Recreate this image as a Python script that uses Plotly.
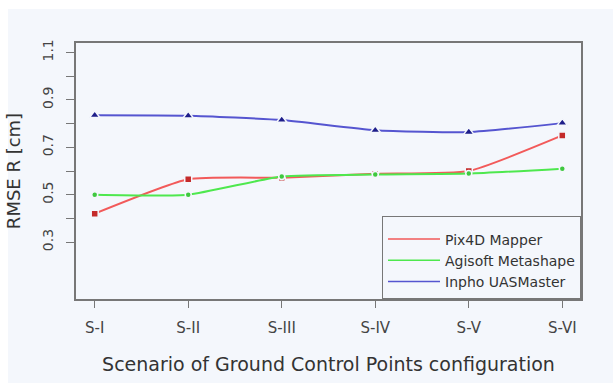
import plotly.graph_objects as go

scenarios = ["S-I", "S-II", "S-III", "S-IV", "S-V", "S-VI"]
pix4d = [0.42, 0.565, 0.572, 0.588, 0.600, 0.750]
agisoft = [0.50, 0.50, 0.577, 0.585, 0.589, 0.610]
inpho = [0.835, 0.833, 0.815, 0.772, 0.764, 0.802]

series_names = ["Pix4D Mapper", "Agisoft Metashape", "Inpho UASMaster"]
line_colors = ["#f25a5a", "#4ee84e", "#5555d0"]
marker_colors = ["#c42a2a", "#3fc83f", "#1e1e8a"]
marker_symbols = ["square", "circle", "triangle-up"]
marker_sizes = [7, 6, 9]

y_tickvals = [0.3, 0.4, 0.5, 0.6, 0.7, 0.8, 0.9, 1.0, 1.1]
y_ticktext = ["0.3", "", "0.5", "", "0.7", "", "0.9", "", "1.1"]

BG = "#f4f7fc"
FONT = "DejaVu Sans, Liberation Sans, Arial, sans-serif"
xpos = list(range(1, len(scenarios) + 1))

fig = go.Figure()
for name, vals, lc, mc, sym, ms in zip(series_names, [pix4d, agisoft, inpho],
                                       line_colors, marker_colors, marker_symbols, marker_sizes):
    fig.add_trace(go.Scatter(
        x=xpos, y=vals, name=name, mode="lines+markers", showlegend=False,
        line=dict(color=lc, width=2, shape="spline", smoothing=0.5),
        marker=dict(color=mc, symbol=sym, size=ms, line=dict(color=BG, width=1.5)),
    ))
# legend entries (line only, as in the reference)
for name, lc in zip(series_names, line_colors):
    fig.add_trace(go.Scatter(
        x=[None], y=[None], name=name, mode="lines",
        line=dict(color=lc, width=1.5), showlegend=True,
    ))

fig.update_layout(
    width=613, height=383,
    margin=dict(l=76, r=32, t=43, b=84),
    paper_bgcolor=BG, plot_bgcolor=BG,
    font=dict(family=FONT, color="#333333"),
    showlegend=True,
    legend=dict(
        x=1, y=0, xanchor="right", yanchor="bottom",
        bgcolor=BG, bordercolor="#777777", borderwidth=1,
        font=dict(size=14, color="#333333", family=FONT),
        itemwidth=52, tracegroupgap=0,
        title=dict(text=" ", font=dict(size=5)),
    ),
    xaxis=dict(
        range=[0.8, 6.2], tickvals=xpos, ticktext=scenarios,
        showgrid=False, zeroline=False,
        ticks="outside", ticklen=7, tickcolor="#777777",
        showline=True, linecolor="#777777", linewidth=1.5, mirror=True,
        tickfont=dict(size=15, color="#444444"), ticklabelstandoff=7,
        title=dict(text="Scenario of Ground Control Points configuration",
                   font=dict(size=19, color="#333333"), standoff=22),
    ),
    yaxis=dict(
        range=[0.06, 1.14], tickvals=y_tickvals, ticktext=y_ticktext,
        showgrid=False, zeroline=False,
        ticks="outside", ticklen=8, tickcolor="#777777",
        showline=True, linecolor="#777777", linewidth=1.5, mirror=True,
        tickangle=-90,
        tickfont=dict(size=14, color="#444444"), ticklabelstandoff=8,
        title=dict(text="RMSE R [cm]", font=dict(size=18, color="#333333"), standoff=14),
    ),
)

# white strip at top and left edge of the scanned page
fig.add_shape(type="rect", xref="paper", yref="paper",
              x0=-0.2, x1=1.1, y0=1 + 34 / 256, y1=1.3,
              fillcolor="white", line=dict(width=0), layer="above")
fig.add_shape(type="rect", xref="paper", yref="paper",
              x0=-76 / 505, x1=-68 / 505, y0=-0.5, y1=1.3,
              fillcolor="white", line=dict(width=0), layer="above")

fig.write_html("out.html")
